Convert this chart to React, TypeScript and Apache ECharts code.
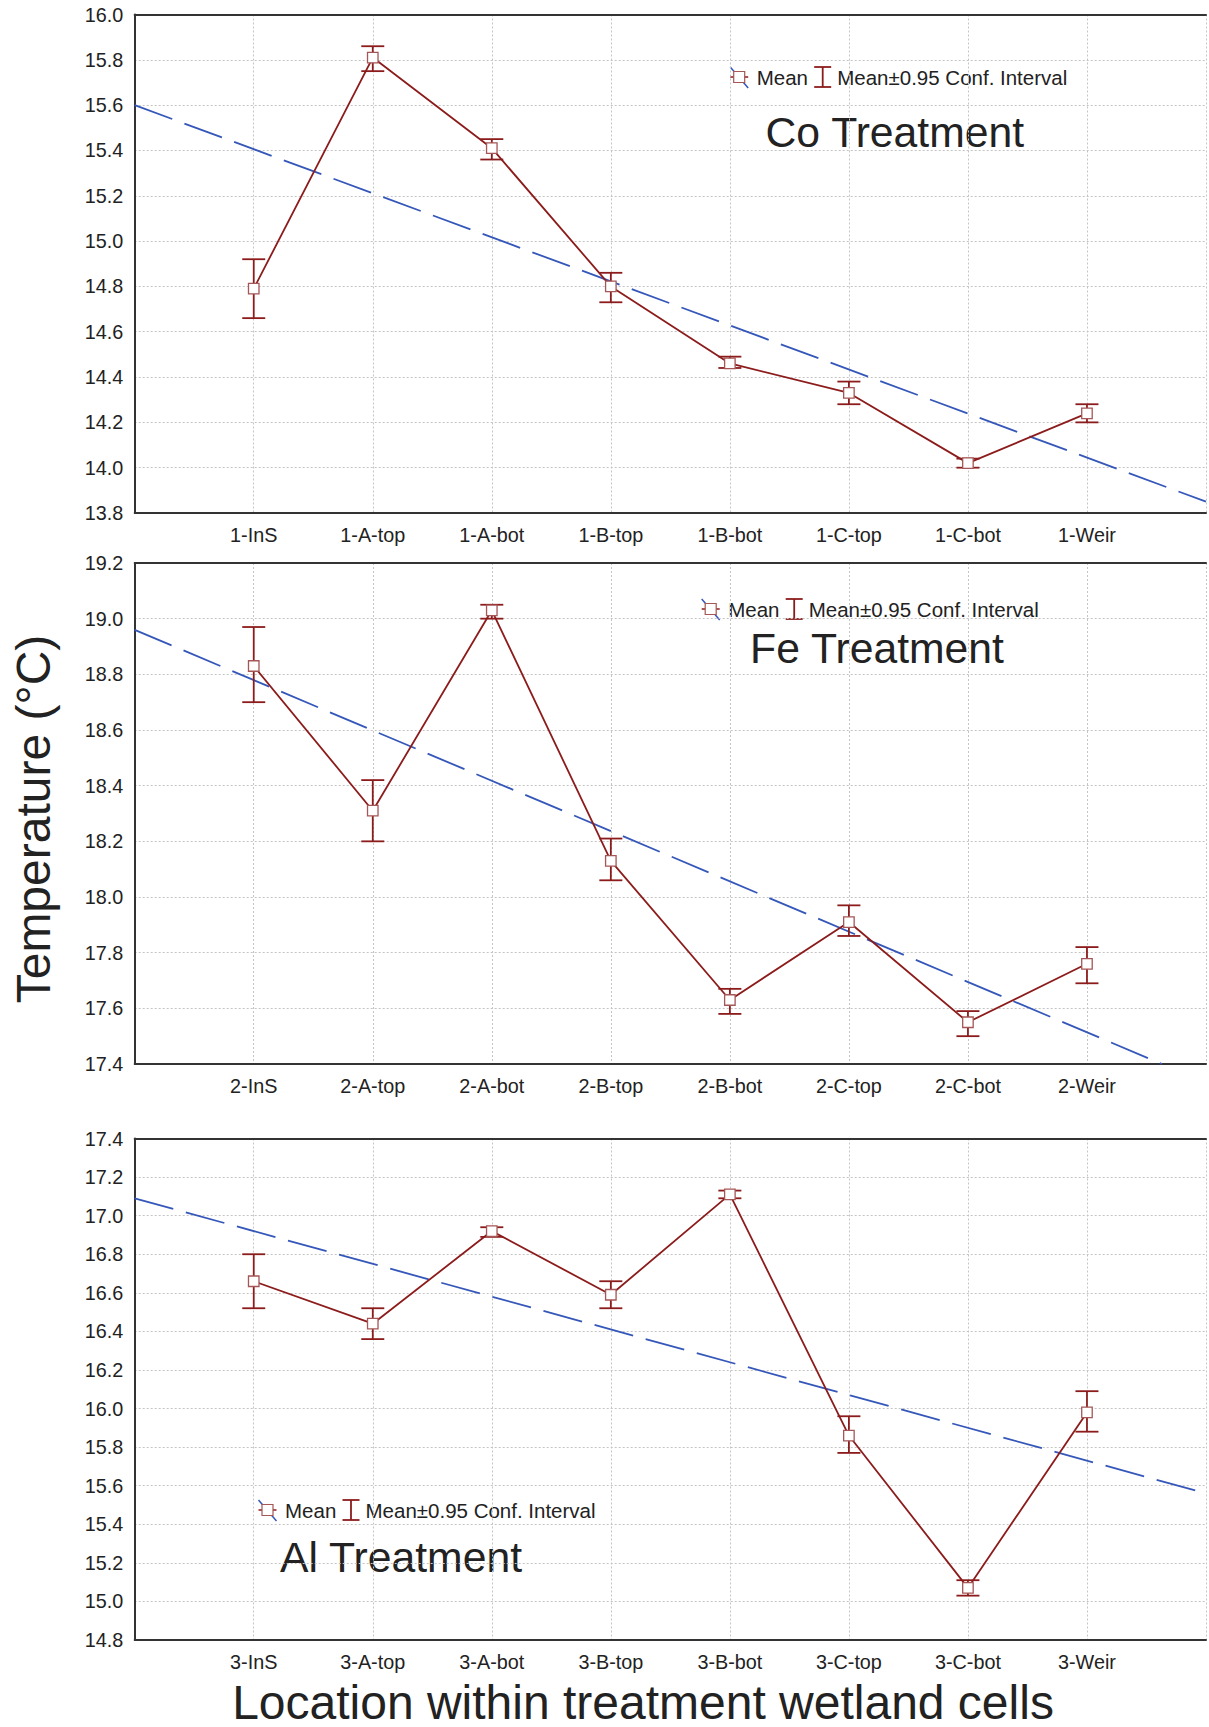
import React, { useEffect, useRef } from 'react';
import * as echarts from 'echarts';

// ---------- data ----------
const coLabels = ['1-InS', '1-A-top', '1-A-bot', '1-B-top', '1-B-bot', '1-C-top', '1-C-bot', '1-Weir'];
const feLabels = ['2-InS', '2-A-top', '2-A-bot', '2-B-top', '2-B-bot', '2-C-top', '2-C-bot', '2-Weir'];
const alLabels = ['3-InS', '3-A-top', '3-A-bot', '3-B-top', '3-B-bot', '3-C-top', '3-C-bot', '3-Weir'];

const coMean = [14.79, 15.81, 15.41, 14.80, 14.46, 14.33, 14.02, 14.24];
const coLow = [14.66, 15.75, 15.36, 14.73, 14.44, 14.28, 14.00, 14.20];
const coHigh = [14.92, 15.86, 15.45, 14.86, 14.49, 14.38, 14.04, 14.28];
const coTrend = [[0, 15.60], [9, 13.85]];

const feMean = [18.83, 18.31, 19.03, 18.13, 17.63, 17.91, 17.55, 17.76];
const feLow = [18.70, 18.20, 19.00, 18.06, 17.58, 17.86, 17.50, 17.69];
const feHigh = [18.97, 18.42, 19.05, 18.21, 17.67, 17.97, 17.59, 17.82];
const feTrend = [[0, 18.96], [8.63, 17.40]];

const alMean = [16.66, 16.44, 16.92, 16.59, 17.11, 15.86, 15.07, 15.98];
const alLow = [16.52, 16.36, 16.89, 16.52, 17.09, 15.77, 15.03, 15.88];
const alHigh = [16.80, 16.52, 16.94, 16.66, 17.13, 15.96, 15.11, 16.09];
const alTrend = [[0, 17.09], [9, 15.56]];

const coRange = [13.8, 16.0];
const feRange = [17.4, 19.2];
const alRange = [14.8, 17.4];

const panelTitles = ['Co Treatment', 'Fe Treatment', 'Al Treatment'];
const legendMean = 'Mean';
const legendCI = 'Mean±0.95 Conf. Interval';
const yTitle = 'Temperature (°C)';
const xTitle = 'Location within treatment wetland cells';

// ---------- styles ----------
const FONT = '"Liberation Sans", Arial, Helvetica, sans-serif';
const RED = '#8c1c1c';
const SQ = '#a55656';
const BLUE = '#3557b9';
const AXIS = '#333333';
const TEXT = '#222222';
const GRIDLINE = '#c4c4c4';
const TICK_FONT = 19.8;

const grids = [
  { left: 134.7, width: 1078, top: 14.5, height: 498.5 },
  { left: 134.7, width: 1078, top: 563, height: 501 },
  { left: 134.7, width: 1078, top: 1138.5, height: 501.5 },
];

function buildPanel(
  idx: number,
  labels: string[],
  mean: number[],
  low: number[],
  high: number[],
  trend: number[][],
  range: number[]
) {
  const xBottom = {
    type: 'value',
    gridIndex: idx,
    min: 0,
    max: 9,
    interval: 1,
    position: 'bottom',
    axisLine: { show: true, onZero: false, lineStyle: { color: AXIS, width: 2 } },
    axisTick: { show: false },
    axisLabel: {
      margin: 12,
      fontSize: TICK_FONT,
      fontFamily: FONT,
      color: TEXT,
      formatter: (v: number) => {
        const i = Math.round(v) - 1;
        return i >= 0 && i < labels.length ? labels[i] : '';
      },
    },
    splitLine: { show: true, lineStyle: { color: GRIDLINE, width: 1, type: [2, 2] } },
  };
  const xTop = {
    type: 'value',
    gridIndex: idx,
    min: 0,
    max: 9,
    interval: 1,
    position: 'top',
    axisLine: { show: true, onZero: false, lineStyle: { color: AXIS, width: 2 } },
    axisTick: { show: false },
    axisLabel: { show: false },
    splitLine: { show: false },
  };
  const y = {
    type: 'value',
    gridIndex: idx,
    min: range[0],
    max: range[1],
    interval: 0.2,
    axisLine: { show: true, onZero: false, lineStyle: { color: AXIS, width: 2 } },
    axisTick: { show: false },
    axisLabel: {
      margin: 11.5,
      fontSize: TICK_FONT,
      fontFamily: FONT,
      color: TEXT,
      formatter: (v: number) => v.toFixed(1),
    },
    splitLine: { show: true, lineStyle: { color: GRIDLINE, width: 1, type: [2, 2] } },
  };

  const xi = idx * 2;
  const series = [
    {
      type: 'line',
      xAxisIndex: xi,
      yAxisIndex: idx,
      data: trend,
      symbol: 'none',
      silent: true,
      z: 2,
      lineStyle: { color: BLUE, width: 1.8, type: [40, 13] },
    },
    {
      type: 'custom',
      xAxisIndex: xi,
      yAxisIndex: idx,
      z: 3,
      encode: { x: 0, y: [1, 2] },
      data: mean.map((_, i) => [i + 1, low[i], high[i]]),
      renderItem: (params: any, api: any) => {
        const x = api.value(0);
        const pLo = api.coord([x, api.value(1)]);
        const pHi = api.coord([x, api.value(2)]);
        const hw = 11.5;
        const st = { stroke: RED, lineWidth: 1.8 };
        return {
          type: 'group',
          children: [
            { type: 'line', shape: { x1: pLo[0], y1: pLo[1], x2: pHi[0], y2: pHi[1] }, style: st },
            { type: 'line', shape: { x1: pLo[0] - hw, y1: pLo[1], x2: pLo[0] + hw, y2: pLo[1] }, style: st },
            { type: 'line', shape: { x1: pHi[0] - hw, y1: pHi[1], x2: pHi[0] + hw, y2: pHi[1] }, style: st },
          ],
        };
      },
    },
    {
      type: 'line',
      xAxisIndex: xi,
      yAxisIndex: idx,
      z: 4,
      data: mean.map((m, i) => [i + 1, m]),
      symbol: 'rect',
      symbolSize: 10.5,
      showAllSymbol: true,
      lineStyle: { color: RED, width: 1.8 },
      itemStyle: { color: '#ffffff', borderColor: SQ, borderWidth: 1.3 },
    },
  ];
  return { xAxes: [xBottom, xTop], y, series };
}

function legendGroup(x0: number, yc: number) {
  const ts = { fontSize: 20.5, fontFamily: FONT, fill: TEXT, verticalAlign: 'middle', align: 'left' };
  return {
    type: 'group',
    x: x0,
    y: yc,
    silent: true,
    children: [
      { type: 'line', shape: { x1: 0, y1: 0, x2: 18, y2: 0 }, style: { stroke: RED, lineWidth: 1.5 } },
      { type: 'line', shape: { x1: 0, y1: -10, x2: 18, y2: 11 }, style: { stroke: BLUE, lineWidth: 1.5 } },
      { type: 'rect', shape: { x: 3.5, y: -5.5, width: 11, height: 11 }, style: { fill: '#ffffff', stroke: SQ, lineWidth: 1.2 } },
      { type: 'text', x: 26.5, y: 0, style: { ...ts, text: legendMean } },
      { type: 'line', shape: { x1: 92.5, y1: -10, x2: 92.5, y2: 10 }, style: { stroke: RED, lineWidth: 1.8 } },
      { type: 'line', shape: { x1: 84, y1: -10, x2: 101, y2: -10 }, style: { stroke: RED, lineWidth: 1.8 } },
      { type: 'line', shape: { x1: 84, y1: 10, x2: 101, y2: 10 }, style: { stroke: RED, lineWidth: 1.8 } },
      { type: 'text', x: 107, y: 0, style: { ...ts, text: legendCI } },
    ],
  };
}

function titleText(text: string, x: number, y: number, size: number, rotation = 0) {
  return {
    type: 'text',
    x,
    y,
    rotation,
    silent: true,
    style: { text, fontSize: size, fontFamily: FONT, fill: TEXT, align: 'center', verticalAlign: 'middle' },
  };
}

export default function App() {
  const ref = useRef<HTMLDivElement>(null);

  useEffect(() => {
    if (!ref.current) return;
    const chart = echarts.init(ref.current, undefined, { renderer: 'svg' });
    const p1 = buildPanel(0, coLabels, coMean, coLow, coHigh, coTrend, coRange);
    const p2 = buildPanel(1, feLabels, feMean, feLow, feHigh, feTrend, feRange);
    const p3 = buildPanel(2, alLabels, alMean, alLow, alHigh, alTrend, alRange);

    chart.setOption({
      animation: false,
      backgroundColor: '#ffffff',
      grid: grids,
      xAxis: [...p1.xAxes, ...p2.xAxes, ...p3.xAxes],
      yAxis: [p1.y, p2.y, p3.y],
      series: [...p1.series, ...p2.series, ...p3.series],
      graphic: [
        legendGroup(730.2, 77),
        legendGroup(701.7, 609),
        legendGroup(258.5, 1510),
        titleText(panelTitles[0], 894.8, 132, 42.7),
        titleText(panelTitles[1], 877, 647.5, 42.7),
        titleText(panelTitles[2], 401, 1556.5, 42.7),
        titleText(yTitle, 33, 819, 48, Math.PI / 2),
        titleText(xTitle, 643, 1702, 48),
      ],
    });
    return () => chart.dispose();
  }, []);

  return (
    <div
      ref={ref}
      style={{ position: 'absolute', left: 0, top: 0, width: 1209, height: 1727, background: '#fff' }}
    />
  );
}
